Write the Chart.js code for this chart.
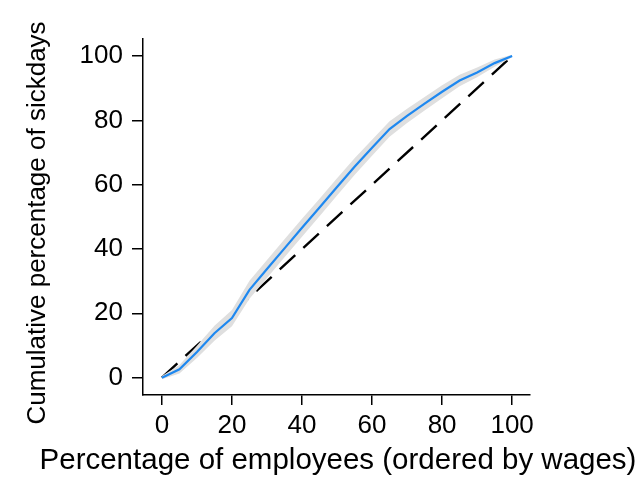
<!DOCTYPE html>
<html>
<head>
<meta charset="utf-8">
<script src="https://cdn.jsdelivr.net/npm/chart.js@4"></script>
<style>
  html, body { margin: 0; padding: 0; background: #fff; }
  #wrap { width: 643px; height: 479px; }
</style>
</head>
<body>
<div id="wrap"><canvas id="c" width="643" height="479"></canvas></div>
<script>
// Concentration curve of sick days against employees ranked by wage
const employeePct = [0, 5, 10, 15, 20, 25, 30, 35, 40, 45, 50, 55, 60, 65, 70, 75, 80, 85, 90, 95, 100];
const sickdayPct  = [0, 2.6, 8.0, 13.8, 18.5, 27.3, 33.8, 40.2, 46.6, 52.9, 59.3, 65.6, 71.5, 77.3, 81.4, 85.2, 88.9, 92.4, 94.9, 97.8, 100];
const bandUpper   = [0.5, 3.9, 9.9, 16.1, 21.0, 30.1, 36.6, 43.0, 49.4, 55.6, 62.0, 68.2, 74.0, 79.7, 83.6, 87.3, 90.9, 94.2, 96.4, 98.9, 100.4];
const bandLower   = [-0.5, 1.3, 6.1, 11.5, 16.0, 24.5, 31.0, 37.4, 43.8, 50.2, 56.6, 63.0, 69.0, 74.9, 79.2, 83.1, 86.9, 90.6, 93.4, 96.7, 99.6];
const equalityX   = [0, 100];
const equalityY   = [0, 100];
const tickValues  = [0, 20, 40, 60, 80, 100];

const xTitle = 'Percentage of employees (ordered by wages)';
const yTitle = 'Cumulative percentage of sickdays';

const pts = (xs, ys) => xs.map((x, i) => ({ x: x, y: ys[i] }));

const FONT = '"Liberation Sans", Arial, sans-serif';

// axis titles placed relative to the plot area
const axisTitles = {
  id: 'axisTitles',
  afterDraw(chart) {
    const { ctx } = chart;
    ctx.save();
    ctx.fillStyle = '#000';
    ctx.textAlign = 'center';
    ctx.textBaseline = 'alphabetic';
    ctx.font = '29.5px ' + FONT;
    ctx.fillText(xTitle, 338, 469);
    ctx.font = '26px ' + FONT;
    ctx.translate(45, 223);
    ctx.rotate(-Math.PI / 2);
    ctx.fillText(yTitle, 0, 0);
    ctx.restore();
  }
};

const tickOpts = (extra) => Object.assign({
  color: '#000',
  font: { family: FONT, size: 26 },
  autoSkip: false,
  maxRotation: 0
}, extra);

new Chart(document.getElementById('c'), {
  type: 'line',
  data: {
    datasets: [
      {
        label: 'Equality',
        data: pts(equalityX, equalityY),
        borderColor: '#000',
        borderWidth: 2.4,
        borderDash: [21, 11],
        pointRadius: 0,
        fill: false,
        order: 4
      },
      {
        label: 'Lower bound',
        data: pts(employeePct, bandLower),
        borderWidth: 0,
        borderColor: 'rgba(0,0,0,0)',
        pointRadius: 0,
        fill: false,
        order: 3
      },
      {
        label: 'Upper bound',
        data: pts(employeePct, bandUpper),
        borderWidth: 0,
        borderColor: 'rgba(0,0,0,0)',
        backgroundColor: '#dfdfdf',
        pointRadius: 0,
        fill: '-1',
        order: 2
      },
      {
        label: 'Sick days',
        data: pts(employeePct, sickdayPct),
        borderColor: '#1e88f0',
        borderWidth: 2.2,
        pointRadius: 0,
        fill: false,
        order: 1
      }
    ]
  },
  options: {
    responsive: false,
    animation: false,
    events: [],
    layout: { padding: { top: 39, right: 113, bottom: 0, left: 0 } },
    plugins: {
      legend: { display: false },
      tooltip: { enabled: false },
      filler: { drawTime: 'beforeDatasetDraw' }
    },
    scales: {
      x: {
        type: 'linear',
        min: -5.4,
        max: 105.1,
        afterFit(scale) { scale.height = 84; },
        afterBuildTicks(scale) { scale.ticks = tickValues.map(v => ({ value: v })); },
        border: { display: true, color: '#000', width: 1.5 },
        grid: { display: true, drawOnChartArea: false, drawTicks: true, tickLength: 10, color: '#000', lineWidth: 1.5 },
        ticks: tickOpts({ padding: 5 })
      },
      y: {
        type: 'linear',
        min: -5.4,
        max: 105.3,
        afterFit(scale) { scale.width = 143; },
        afterBuildTicks(scale) { scale.ticks = tickValues.map(v => ({ value: v })); },
        border: { display: true, color: '#000', width: 1.5 },
        grid: { display: true, drawOnChartArea: false, drawTicks: true, tickLength: 11, color: '#000', lineWidth: 1.5 },
        ticks: tickOpts({ padding: 9 })
      }
    }
  },
  plugins: [axisTitles]
});
</script>
</body>
</html>
